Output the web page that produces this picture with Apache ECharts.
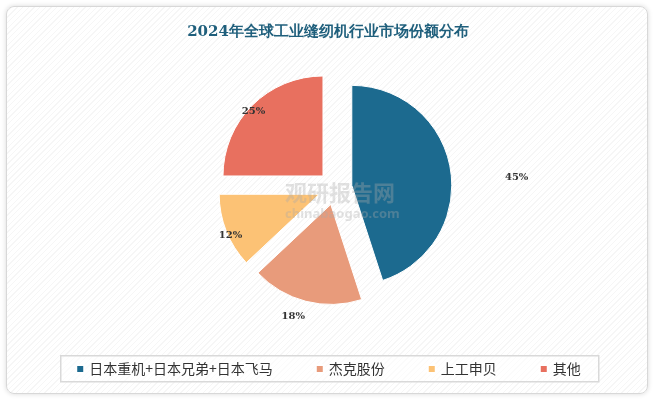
<!DOCTYPE html>
<html><head><meta charset="utf-8">
<script src="https://cdn.jsdelivr.net/npm/echarts@6/dist/echarts.min.js"></script>
<style>
html,body{margin:0;padding:0;background:#fff;}
#frame{position:absolute;left:6px;top:6px;width:640px;height:386px;border:1px solid #d8d8d8;border-radius:8px;box-shadow:0 0 5px rgba(0,0,0,0.15);
background:repeating-linear-gradient(135deg,#fff 0px,#fff 3px,#f6f6f6 3px,#f6f6f6 4px);}
#c{position:absolute;left:0;top:0;width:656px;height:403px;}
</style></head><body>
<div id="frame"></div>
<div id="c"></div>
<script>
const categories = ['日本重机+日本兄弟+日本飞马','杰克股份','上工申贝','其他'];
const values = [45, 18, 12, 25];
const colors = ['#1c6a8f','#e89b7b','#fcc275','#e8705f'];
const labelLens = [50, 16, 0, 0];
const labelShift = [[0,16],[8,0],[21,4],[18,6]];
const chart = echarts.init(document.getElementById('c'));
chart.setOption({
  animation:false,
  title:{text:'2024年全球工业缝纫机行业市场份额分布',left:'center',top:20,
    textStyle:{fontFamily:'DejaVu Serif, serif',fontSize:15,fontWeight:'bold',color:'#1f5f7c'}},
  graphic:[
    {type:'rect',left:60,top:355,shape:{width:538,height:26},style:{fill:'rgba(255,255,255,0.6)',stroke:'#d9d9d9',lineWidth:1.5}},
    {type:'text',left:285,top:182,z:10,style:{text:'观研报告网',font:'bold 22px "Noto Sans CJK SC"',fill:'rgba(170,170,170,0.35)'}},
    {type:'text',left:285,top:208,z:10,style:{text:'chinabaogao.com',font:'bold 13px "Noto Sans"',fill:'rgba(170,170,170,0.35)'}}
  ],
  legend:{bottom:22,left:'center',itemWidth:8,itemHeight:8,itemGap:42,icon:'rect',
    textStyle:{fontSize:14,color:'#333',fontFamily:'Noto Sans CJK SC'},data:categories},
  series:[{type:'pie',center:[335,188],radius:[0,100],startAngle:90,clockwise:true,
    selectedMode:'multiple',selectedOffset:17,
    itemStyle:{borderColor:'#fff',borderWidth:1},
    label:{show:true,position:'outside',formatter:'{c}%',fontFamily:'DejaVu Serif, serif',fontWeight:'bold',fontSize:10,color:'#333'},
    labelLine:{show:false},
    labelLayout:(p)=>({dx:labelShift[p.dataIndex][0],dy:labelShift[p.dataIndex][1]}),
    emphasis:{disabled:true},
    data:categories.map((n,i)=>({name:n,value:values[i],selected:true,itemStyle:{color:colors[i]},
      labelLine:{show:false,length:labelLens[i],length2:0}}))
  }]
});
</script></body></html>
